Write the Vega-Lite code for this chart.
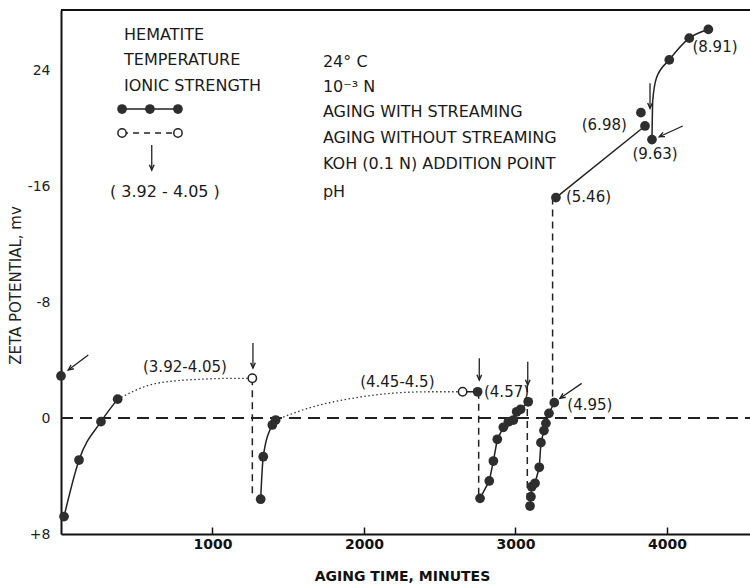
{
  "$schema": "https://vega.github.io/schema/vega-lite/v6.json",
  "width": 689,
  "height": 524,
  "autosize": "none",
  "padding": {"left": 61, "top": 10, "right": 0, "bottom": 52},
  "background": "white",
  "config": {"view": {"stroke": null}, "font": "DejaVu Sans"},
  "datasets": {
    "pts": [
      {"t": 0, "z": -2.9}, {"t": 20, "z": 6.8}, {"t": 119, "z": 2.9}, {"t": 264, "z": 0.25}, {"t": 374, "z": -1.3},
      {"t": 1318, "z": 5.6}, {"t": 1335, "z": 2.67}, {"t": 1395, "z": 0.48}, {"t": 1417, "z": 0.14},
      {"t": 2750, "z": -1.81},
      {"t": 2766, "z": 5.54}, {"t": 2827, "z": 4.34}, {"t": 2854, "z": 2.97}, {"t": 2880, "z": 1.47}, {"t": 2920, "z": 0.64},
      {"t": 2953, "z": 0.26}, {"t": 2986, "z": 0.14}, {"t": 3008, "z": -0.43}, {"t": 3034, "z": -0.6}, {"t": 3084, "z": -1.12},
      {"t": 3096, "z": 6.07}, {"t": 3102, "z": 5.43}, {"t": 3107, "z": 4.74}, {"t": 3129, "z": 4.5}, {"t": 3157, "z": 3.4},
      {"t": 3168, "z": 1.7}, {"t": 3188, "z": 0.87}, {"t": 3201, "z": 0.37}, {"t": 3221, "z": -0.32}, {"t": 3256, "z": -1.06},
      {"t": 3267, "z": -15.2}, {"t": 3828, "z": -21.06}, {"t": 3855, "z": -20.14}, {"t": 3901, "z": -19.2},
      {"t": 4015, "z": -24.7}, {"t": 4147, "z": -26.2}, {"t": 4273, "z": -26.8},
      {"t": 403, "z": -21.31}, {"t": 587, "z": -21.31}, {"t": 772, "z": -21.31}
    ],
    "openpts": [
      {"t": 1263, "z": -2.74}, {"t": 2651, "z": -1.81}, {"t": 403, "z": -19.66}, {"t": 772, "z": -19.66}
    ],
    "linear": [
      {"seg": "C", "t": 2651, "z": -1.81}, {"seg": "C", "t": 2750, "z": -1.81},
      {"seg": "D", "t": 2766, "z": 5.54}, {"seg": "D", "t": 2827, "z": 4.34}, {"seg": "D", "t": 2854, "z": 2.97}, {"seg": "D", "t": 2880, "z": 1.47},
      {"seg": "D", "t": 2920, "z": 0.64}, {"seg": "D", "t": 2953, "z": 0.26}, {"seg": "D", "t": 2986, "z": 0.14}, {"seg": "D", "t": 3008, "z": -0.43},
      {"seg": "D", "t": 3034, "z": -0.6}, {"seg": "D", "t": 3084, "z": -1.12},
      {"seg": "E", "t": 3096, "z": 6.07}, {"seg": "E", "t": 3102, "z": 5.43}, {"seg": "E", "t": 3107, "z": 4.74}, {"seg": "E", "t": 3129, "z": 4.5},
      {"seg": "E", "t": 3157, "z": 3.4}, {"seg": "E", "t": 3168, "z": 1.7}, {"seg": "E", "t": 3188, "z": 0.87}, {"seg": "E", "t": 3201, "z": 0.37},
      {"seg": "E", "t": 3221, "z": -0.32}, {"seg": "E", "t": 3256, "z": -1.06},
      {"seg": "F", "t": 3267, "z": -15.2}, {"seg": "F", "t": 3855, "z": -20.14},
      {"seg": "L", "t": 403, "z": -21.31}, {"seg": "L", "t": 772, "z": -21.31}
    ],
    "smooth": [
      {"seg": "A", "t": 20, "z": 6.8}, {"seg": "A", "t": 119, "z": 2.9}, {"seg": "A", "t": 264, "z": 0.25}, {"seg": "A", "t": 374, "z": -1.3},
      {"seg": "B", "t": 1318, "z": 5.6}, {"seg": "B", "t": 1335, "z": 2.67}, {"seg": "B", "t": 1395, "z": 0.48}, {"seg": "B", "t": 1417, "z": 0.14},
      {"seg": "G", "t": 3901, "z": -19.2}, {"seg": "G", "t": 3906, "z": -21.9}, {"seg": "G", "t": 3932, "z": -23.5},
      {"seg": "G", "t": 4015, "z": -24.7}, {"seg": "G", "t": 4147, "z": -26.2}, {"seg": "G", "t": 4273, "z": -26.8}
    ],
    "dotted": [
      {"seg": "H", "t": 374, "z": -1.3}, {"seg": "H", "t": 587, "z": -2.28}, {"seg": "H", "t": 763, "z": -2.57},
      {"seg": "H", "t": 917, "z": -2.67}, {"seg": "H", "t": 1137, "z": -2.74}, {"seg": "H", "t": 1263, "z": -2.74},
      {"seg": "I", "t": 1417, "z": 0.14}, {"seg": "I", "t": 1665, "z": -0.78}, {"seg": "I", "t": 1886, "z": -1.29},
      {"seg": "I", "t": 2106, "z": -1.63}, {"seg": "I", "t": 2436, "z": -1.81}, {"seg": "I", "t": 2651, "z": -1.81}
    ],
    "legdash": [{"t": 403, "z": -19.66}, {"t": 772, "z": -19.66}],
    "vlines": [
      {"t": 1263, "z": -2.74, "z2": 5.4},
      {"t": 2757, "z": -1.81, "z2": 5.4},
      {"t": 3078, "z": -2.28, "z2": 6.0},
      {"t": 3245, "z": -15.2, "z2": -1.1}
    ],
    "arrows": [
      {"t": 180, "z": -4.34, "t2": 48, "z2": -3.31},
      {"t": 1267, "z": -5.17, "t2": 1267, "z2": -3.45},
      {"t": 2761, "z": -4.12, "t2": 2761, "z2": -2.62},
      {"t": 3081, "z": -3.88, "t2": 3081, "z2": -2.28},
      {"t": 3437, "z": -2.39, "t2": 3294, "z2": -1.36},
      {"t": 3888, "z": -23.08, "t2": 3888, "z2": -21.36},
      {"t": 4104, "z": -20.14, "t2": 3949, "z2": -19.4},
      {"t": 599, "z": -18.83, "t2": 599, "z2": -17.1}
    ],
    "heads": [
      {"t": 48, "z": -3.31, "ang": 53},
      {"t": 1267, "z": -3.45, "ang": 0},
      {"t": 2761, "z": -2.62, "ang": 0},
      {"t": 3081, "z": -2.28, "ang": 0},
      {"t": 3294, "z": -1.36, "ang": 55},
      {"t": 3888, "z": -21.36, "ang": 0},
      {"t": 3949, "z": -19.4, "ang": 65},
      {"t": 599, "z": -17.1, "ang": 0}
    ],
    "legtext": [
      {"t": 416, "z": -26.41, "label": "HEMATITE"},
      {"t": 416, "z": -24.69, "label": "TEMPERATURE"},
      {"t": 416, "z": -22.9, "label": "IONIC STRENGTH"},
      {"t": 1729, "z": -24.55, "label": "24° C"},
      {"t": 1729, "z": -22.83, "label": "10⁻³ N"},
      {"t": 1729, "z": -21.1, "label": "AGING WITH STREAMING"},
      {"t": 1729, "z": -19.31, "label": "AGING WITHOUT STREAMING"},
      {"t": 1729, "z": -17.52, "label": "KOH (0.1 N) ADDITION POINT"},
      {"t": 1729, "z": -15.59, "label": "pH"}
    ],
    "legctext": [
      {"t": 686, "z": -15.59, "label": "( 3.92 - 4.05 )"}
    ],
    "lablft": [
      {"t": 2792, "z": -1.81, "label": "(4.57)"},
      {"t": 3342, "z": -0.9, "label": "(4.95)"},
      {"t": 3333, "z": -15.26, "label": "(5.46)"}
    ],
    "labctr": [
      {"t": 818, "z": -3.54, "label": "(3.92-4.05)"},
      {"t": 2220, "z": -2.5, "label": "(4.45-4.5)"},
      {"t": 3586, "z": -20.19, "label": "(6.98)"},
      {"t": 3921, "z": -18.19, "label": "(9.63)"},
      {"t": 4317, "z": -25.6, "label": "(8.91)"}
    ],
    "borders": [
      {"t": 0, "t2": 4548, "z": -28.14}
    ],
    "zeroline": [
      {"t": 0, "t2": 4548, "z": 0}
    ]
  },
  "encoding": {
    "x": {
      "field": "t", "type": "quantitative",
      "scale": {"domain": [0, 4548], "nice": false, "zero": false},
      "axis": {
        "values": [1000, 2000, 3000, 4000], "format": "d", "grid": false,
        "domainColor": "#111", "domainWidth": 2,
        "ticks": true, "tickSize": -7, "tickColor": "#111", "tickWidth": 1.5,
        "labelFont": "DejaVu Sans", "labelFontWeight": "bold", "labelFontSize": 14, "labelColor": "#111", "labelPadding": 10,
        "title": "AGING TIME, MINUTES", "titleFont": "DejaVu Sans", "titleFontWeight": "bold", "titleFontSize": 14, "titleColor": "#111",
        "titleX": 341, "titleY": 42, "titleBaseline": "middle", "titleAlign": "center"
      }
    },
    "y": {
      "field": "z", "type": "quantitative",
      "scale": {"domain": [-28.14, 8], "nice": false, "zero": false, "reverse": true},
      "axis": {
        "values": [-24, -16, -8, 0, 8], "grid": false,
        "labelExpr": "datum.value == -24 ? '24' : datum.value == -16 ? '-16' : datum.value == -8 ? '-8' : datum.value == 8 ? '+8' : '0'",
        "domainColor": "#111", "domainWidth": 2, "ticks": false,
        "labelFont": "DejaVu Sans", "labelFontSize": 14, "labelColor": "#222", "labelPadding": 11,
        "title": "ZETA POTENTIAL, mv", "titleFont": "DejaVu Sans", "titleFontWeight": "normal", "titleFontSize": 15, "titleColor": "#222",
        "titleAngle": -90, "titleX": -46, "titleY": 275, "titleBaseline": "middle", "titleAlign": "center"
      }
    }
  },
  "layer": [
    {"data": {"name": "zeroline"}, "mark": {"type": "rule", "color": "#222", "strokeWidth": 2, "strokeDash": [12, 7]},
     "encoding": {"x2": {"field": "t2"}}},
    {"data": {"name": "borders"}, "mark": {"type": "rule", "color": "#111", "strokeWidth": 2},
     "encoding": {"x2": {"field": "t2"}}},
    {"data": {"name": "vlines"}, "mark": {"type": "rule", "color": "#222", "strokeWidth": 1.5, "strokeDash": [7, 5]},
     "encoding": {"y2": {"field": "z2"}}},
    {"data": {"name": "dotted"}, "mark": {"type": "line", "color": "#333", "strokeWidth": 1.3, "strokeDash": [1.5, 2.5], "interpolate": "monotone"},
     "encoding": {"detail": {"field": "seg"}}},
    {"data": {"name": "legdash"}, "mark": {"type": "line", "color": "#222", "strokeWidth": 1.5, "strokeDash": [6, 5]},
     "encoding": {}},
    {"data": {"name": "linear"}, "mark": {"type": "line", "color": "#222", "strokeWidth": 1.5},
     "encoding": {"detail": {"field": "seg"}}},
    {"data": {"name": "smooth"}, "mark": {"type": "line", "color": "#222", "strokeWidth": 1.5, "interpolate": "monotone"},
     "encoding": {"detail": {"field": "seg"}}},
    {"data": {"name": "pts"}, "mark": {"type": "point", "shape": "circle", "filled": true, "color": "#2e2e2e", "opacity": 1, "size": 95},
     "encoding": {}},
    {"data": {"name": "openpts"}, "mark": {"type": "point", "shape": "circle", "fill": "white", "stroke": "#222", "strokeWidth": 1.5, "opacity": 1, "fillOpacity": 1, "size": 70},
     "encoding": {}},
    {"data": {"name": "arrows"}, "mark": {"type": "rule", "color": "#222", "strokeWidth": 1.3},
     "encoding": {"x2": {"field": "t2"}, "y2": {"field": "z2"}}},
    {"data": {"name": "heads"}, "mark": {"type": "point", "shape": "M-0.45,-1L0,0L0.45,-1", "filled": false, "stroke": "#222", "strokeWidth": 1.4, "opacity": 1, "size": 110},
     "encoding": {"angle": {"field": "ang", "type": "quantitative", "scale": null}}},
    {"data": {"name": "legtext"}, "mark": {"type": "text", "align": "left", "baseline": "middle", "fontSize": 16, "color": "#1a1a1a", "font": "DejaVu Sans"},
     "encoding": {"text": {"field": "label"}}},
    {"data": {"name": "legctext"}, "mark": {"type": "text", "align": "center", "baseline": "middle", "fontSize": 16, "color": "#1a1a1a", "font": "DejaVu Sans"},
     "encoding": {"text": {"field": "label"}}},
    {"data": {"name": "lablft"}, "mark": {"type": "text", "align": "left", "baseline": "middle", "fontSize": 15, "color": "#1a1a1a", "font": "DejaVu Sans"},
     "encoding": {"text": {"field": "label"}}},
    {"data": {"name": "labctr"}, "mark": {"type": "text", "align": "center", "baseline": "middle", "fontSize": 15, "color": "#1a1a1a", "font": "DejaVu Sans"},
     "encoding": {"text": {"field": "label"}}}
  ]
}
